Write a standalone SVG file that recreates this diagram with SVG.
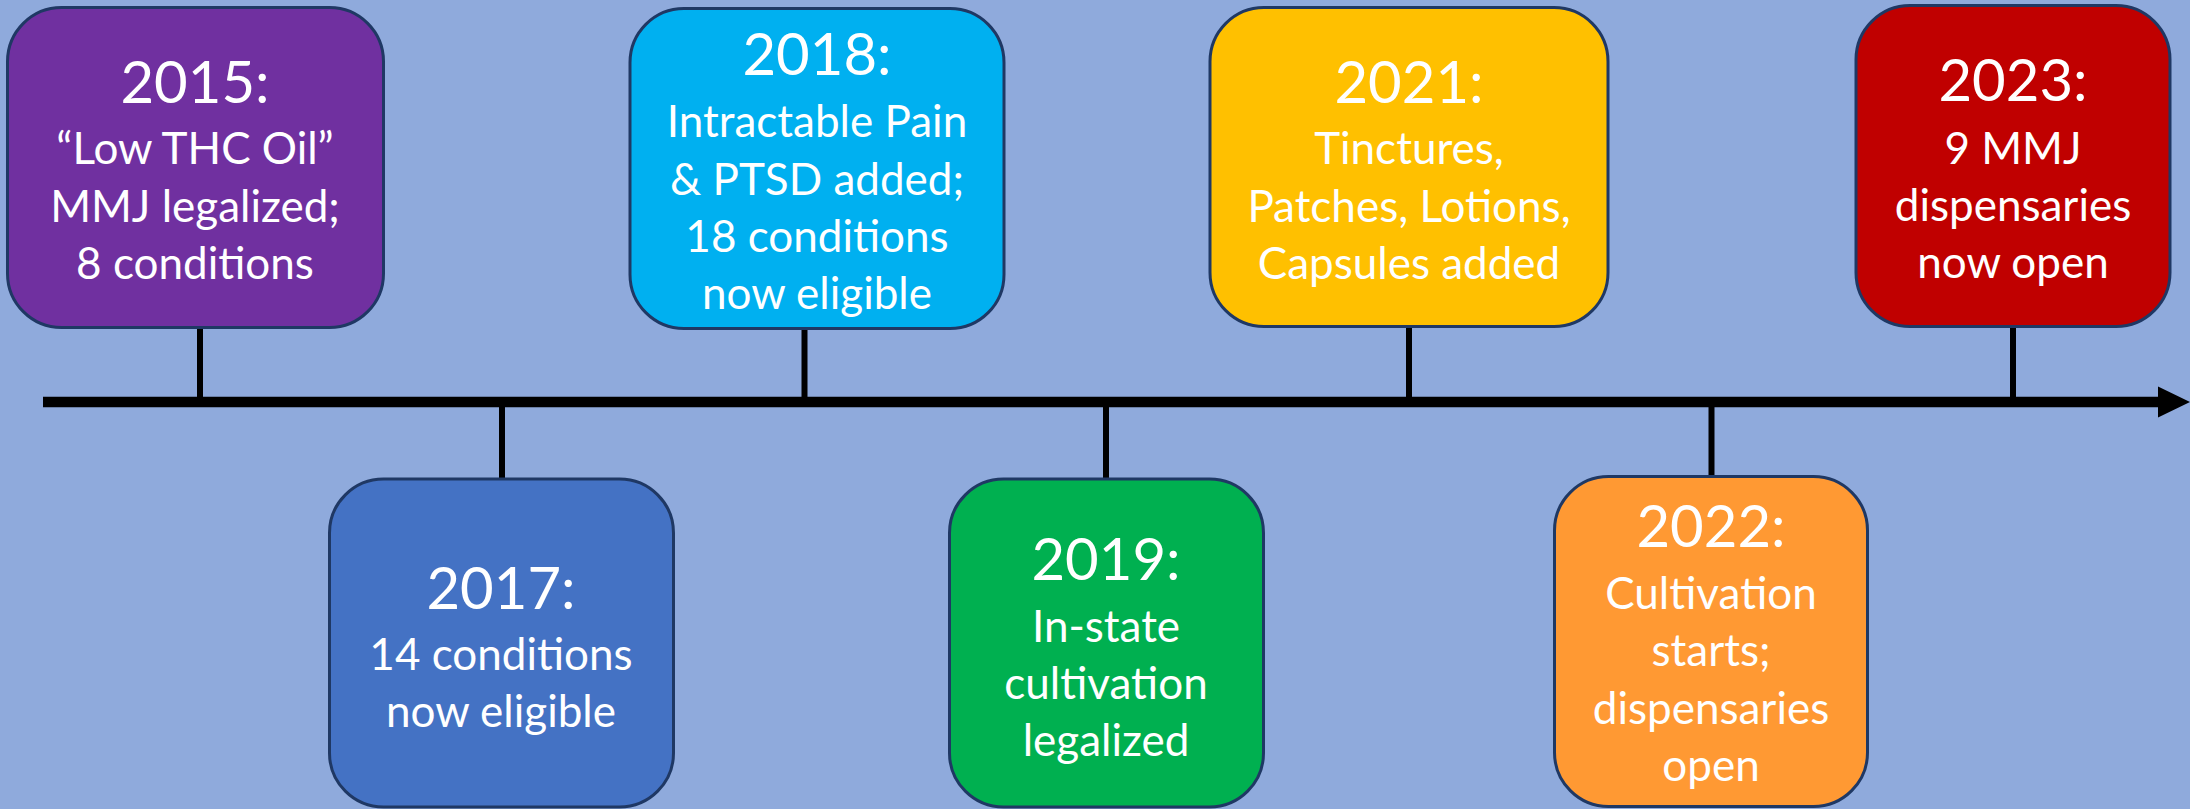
<svg xmlns="http://www.w3.org/2000/svg" width="2190" height="809" viewBox="0 0 2190 809">
<defs>
<style>
.box{stroke:#1F3864;stroke-width:3}
.conn{stroke:#000;stroke-width:6;fill:none}
text{font-family:Lato,"Open Sans","Liberation Sans",sans-serif;fill:#fff;text-anchor:middle}
.yr{font-size:58px}
.bd{font-size:44px}
</style>
<marker id="arr" markerUnits="userSpaceOnUse" markerWidth="32" markerHeight="32" refX="0" refY="15.5" orient="auto" viewBox="0 0 32 31">
<path d="M0,0 L32,15.5 L0,31 Z" fill="#000"/>
</marker>
</defs>
<rect x="0" y="0" width="2190" height="809" fill="#8FAADC"/>
<g id="connectors">
<line x1="43" y1="402" x2="2158" y2="402" stroke="#000" stroke-width="10.5" marker-end="url(#arr)"/>
<line class="conn" x1="200" y1="327" x2="200" y2="402"/>
<line class="conn" x1="502" y1="402" x2="502" y2="478"/>
<line class="conn" x1="804.5" y1="328" x2="804.5" y2="402"/>
<line class="conn" x1="1106" y1="402" x2="1106" y2="478"/>
<line class="conn" x1="1409" y1="326" x2="1409" y2="402"/>
<line class="conn" x1="1711.5" y1="402" x2="1711.5" y2="476"/>
<line class="conn" x1="2013" y1="326" x2="2013" y2="402"/>
</g>
<g id="n2015">
<rect class="box" x="7.5" y="7.5" width="376" height="320" rx="54" fill="#7030A0"/>
<text class="yr" x="195" y="103">2015:</text>
<text class="bd" x="195" y="164">“Low THC Oil”</text>
<text class="bd" x="195" y="222">MMJ legalized;</text>
<text class="bd" x="195" y="279">8 conditions</text>
</g>
<g id="n2017">
<rect class="box" x="329.5" y="479" width="344" height="328" rx="54" fill="#4472C4"/>
<text class="yr" x="501" y="609">2017:</text>
<text class="bd" x="501" y="670">14 conditions</text>
<text class="bd" x="501" y="727">now eligible</text>
</g>
<g id="n2018">
<rect class="box" x="630" y="8.5" width="374" height="320" rx="54" fill="#00B0F0"/>
<text class="yr" x="817" y="75">2018:</text>
<text class="bd" x="817" y="137">Intractable Pain</text>
<text class="bd" x="817" y="195">&amp; PTSD added;</text>
<text class="bd" x="817" y="252">18 conditions</text>
<text class="bd" x="817" y="309">now eligible</text>
</g>
<g id="n2019">
<rect class="box" x="949.5" y="479" width="314" height="328" rx="54" fill="#00B050"/>
<text class="yr" x="1106" y="580">2019:</text>
<text class="bd" x="1106" y="642">In-state</text>
<text class="bd" x="1106" y="699">cultivation</text>
<text class="bd" x="1106" y="756">legalized</text>
</g>
<g id="n2021">
<rect class="box" x="1210" y="7.5" width="398" height="319" rx="54" fill="#FFC000"/>
<text class="yr" x="1409" y="103">2021:</text>
<text class="bd" x="1409" y="164">Tinctures,</text>
<text class="bd" x="1409" y="222">Patches, Lotions,</text>
<text class="bd" x="1409" y="279">Capsules added</text>
</g>
<g id="n2022">
<rect class="box" x="1554.5" y="476.5" width="313" height="330" rx="54" fill="#FF9933"/>
<text class="yr" x="1711" y="547">2022:</text>
<text class="bd" x="1711" y="609">Cultivation</text>
<text class="bd" x="1711" y="666">starts;</text>
<text class="bd" x="1711" y="724">dispensaries</text>
<text class="bd" x="1711" y="781">open</text>
</g>
<g id="n2023">
<rect class="box" x="1856" y="5.5" width="314" height="321" rx="54" fill="#C00000"/>
<text class="yr" x="2013" y="101">2023:</text>
<text class="bd" x="2013" y="164">9 MMJ</text>
<text class="bd" x="2013" y="221">dispensaries</text>
<text class="bd" x="2013" y="278">now open</text>
</g>
</svg>
